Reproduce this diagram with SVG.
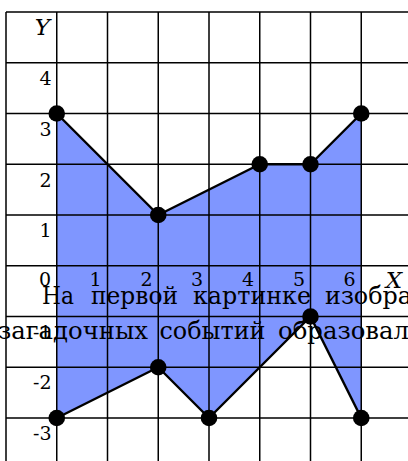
<svg xmlns="http://www.w3.org/2000/svg" width="408" height="461" viewBox="0 0 408 461">
<style>
.grid{stroke:#000;stroke-width:1.5;fill:none}
.edge{stroke:#000;stroke-width:2.4;fill:none;stroke-linejoin:round}
.pt{fill:#000}
.num{font-size:19px;fill:#000;text-anchor:end}
.ax{font-style:italic;font-size:23px;fill:#000;text-anchor:end}
.txt{font-size:24px;fill:#000}
</style>
<rect width="408" height="461" fill="#fff"/>
<polygon id="area" fill="#7f96ff" points="56.75,113.5 158.25,215 259.75,164.25 310.5,164.25 361.25,113.5 361.25,418 310.5,316.5 209,418 158.25,367.25 56.75,418"/>
<g id="grid" class="grid">
<path d="M6,12V461M56.75,12V461M107.5,12V461M158.25,12V461M209,12V461M259.75,12V461M310.5,12V461M361.25,12V461"/>
<path d="M6,12H408M6,62.75H408M6,113.5H408M6,164.25H408M6,215H408M6,265.75H408M6,316.5H408M6,367.25H408M6,418H408"/>
</g>
<g id="connectors">
<polyline class="edge" points="56.75,113.5 158.25,215 259.75,164.25 310.5,164.25 361.25,113.5"/>
<polyline class="edge" points="56.75,418 158.25,367.25 209,418 310.5,316.5 361.25,418"/>
</g>
<g id="labels" font-family="DejaVu Serif, serif">
<text class="ax" x="50" y="35">Y</text>
<text class="num" x="51.5" y="85">4</text>
<text class="num" x="51.5" y="136">3</text>
<text class="num" x="51.5" y="187">2</text>
<text class="num" x="51.5" y="237">1</text>
<text class="num" x="51" y="286">0</text>
<text class="num" x="101.5" y="286">1</text>
<text class="num" x="152.5" y="286">2</text>
<text class="num" x="203" y="286">3</text>
<text class="num" x="254" y="286">4</text>
<text class="num" x="305" y="286">5</text>
<text class="num" x="355.5" y="286">6</text>
<text class="ax" x="402" y="288">X</text>
<text class="num" x="51.5" y="339">-1</text>
<text class="num" x="51.5" y="389">-2</text>
<text class="num" x="51.5" y="440">-3</text>
</g>
<g id="nodes">
<g id="p1"><circle class="pt" cx="56.75" cy="113.5" r="8.3"/></g>
<g id="p2"><circle class="pt" cx="158.25" cy="215" r="8.3"/></g>
<g id="p3"><circle class="pt" cx="259.75" cy="164.25" r="8.3"/></g>
<g id="p4"><circle class="pt" cx="310.5" cy="164.25" r="8.3"/></g>
<g id="p5"><circle class="pt" cx="361.25" cy="113.5" r="8.3"/></g>
<g id="q1"><circle class="pt" cx="56.75" cy="418" r="8.3"/></g>
<g id="q2"><circle class="pt" cx="158.25" cy="367.25" r="8.3"/></g>
<g id="q3"><circle class="pt" cx="209" cy="418" r="8.3"/></g>
<g id="q4"><circle class="pt" cx="310.5" cy="316.5" r="8.3"/></g>
<g id="q5"><circle class="pt" cx="361.25" cy="418" r="8.3"/></g>
</g>
<g id="caption" class="txt" font-family="DejaVu Serif, serif">
<text y="303.5"><tspan x="42" textLength="32" lengthAdjust="spacingAndGlyphs">На</tspan><tspan x="91" textLength="87" lengthAdjust="spacingAndGlyphs">первой</tspan><tspan x="193" textLength="118" lengthAdjust="spacingAndGlyphs">картинке</tspan><tspan x="325" textLength="87" lengthAdjust="spacingAndGlyphs">изобра</tspan></text>
<text y="339"><tspan x="-2" textLength="150" lengthAdjust="spacingAndGlyphs">загадочных</tspan><tspan x="159.5" textLength="106" lengthAdjust="spacingAndGlyphs">событий</tspan><tspan x="278" textLength="131" lengthAdjust="spacingAndGlyphs">образовал</tspan></text>
</g>
</svg>
